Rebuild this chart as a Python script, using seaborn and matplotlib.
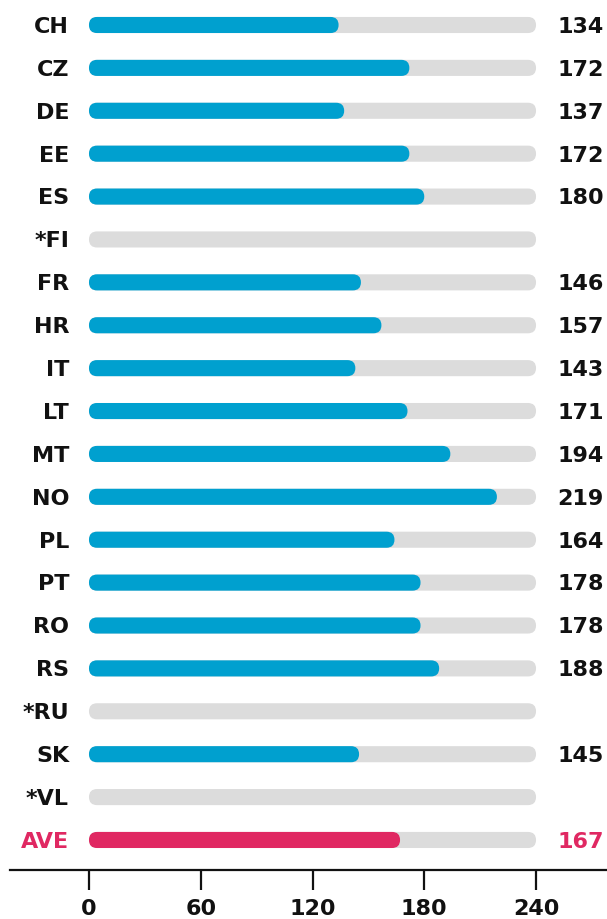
import numpy as np
import pandas as pd
import matplotlib.pyplot as plt
import seaborn as sns
from matplotlib.patches import FancyBboxPatch

# chart data
countries = ["CH", "CZ", "DE", "EE", "ES", "*FI", "FR", "HR", "IT", "LT",
             "MT", "NO", "PL", "PT", "RO", "RS", "*RU", "SK", "*VL", "AVE"]
values = [134, 172, 137, 172, 180, np.nan, 146, 157, 143, 171,
          194, 219, 164, 178, 178, 188, np.nan, 145, np.nan, 167]
track_max = 240
ticks = [0, 60, 120, 180, 240]

BLUE = "#00a0cf"
PINK = "#e02862"
GRAY = "#dcdcdc"

df = pd.DataFrame({"country": countries, "value": values, "track": track_max})
palette = {c: (PINK if c == "AVE" else BLUE) for c in countries}

sns.set_theme(style="white")
plt.rcParams['font.family'] = ['DejaVu Sans']

fig = plt.figure(figsize=(6.07, 9.2), dpi=100)
ax = fig.add_axes([10 / 607, 49 / 920, 597 / 607, 871 / 920])

bar_h = 0.375
sns.barplot(df, x="track", y="country", order=countries, color=GRAY,
            width=bar_h, orient="h", ax=ax, saturation=1)
sns.barplot(df.dropna(), x="value", y="country", order=countries, hue="country",
            palette=palette, width=bar_h, orient="h", ax=ax, saturation=1,
            legend=False)

ax.set_xlim(-42.4, 278.1)
ax.set_ylim(19.7, -0.606)


def round_bars(ax):
    # swap the square bars for pill shapes
    fig.canvas.draw()
    (x0, y0), (x1, y1) = ax.transData.transform([(0, 0), (1, 1)])
    asp = abs(x1 - x0) / abs(y1 - y0)
    for p in list(ax.patches):
        x, y, w, h = p.get_x(), p.get_y(), p.get_width(), p.get_height()
        if not np.isfinite(w) or w <= 0:
            p.remove()
            continue
        r = h / (2 * asp)
        fb = FancyBboxPatch((x, y), w, h,
                            boxstyle=f"round,pad=0,rounding_size={r}",
                            mutation_aspect=asp, facecolor=p.get_facecolor(),
                            edgecolor="none", zorder=p.get_zorder())
        p.remove()
        ax.add_patch(fb)


round_bars(ax)

txt = dict(fontsize=16, fontweight="bold", va="center")
for i, (c, v) in enumerate(zip(countries, values)):
    col = PINK if c == "AVE" else "#111111"
    ax.text(-10.7, i + 0.02, c, ha="right", color=col, **txt)
    if np.isfinite(v):
        ax.text(251.3, i + 0.02, f"{int(v)}", ha="left", color=col, **txt)

ax.set_ylabel("")
ax.set_xlabel("")
ax.set_yticks([])
ax.set_xticks(ticks)
ax.set_xticklabels([str(t) for t in ticks], fontsize=16, fontweight="bold",
                   color="#111111")
ax.tick_params(axis="x", length=14.4, width=1.6, color="#111111", pad=6,
               bottom=True)
sns.despine(ax=ax, left=True, top=True, right=True)
ax.spines["bottom"].set_color("#111111")
ax.spines["bottom"].set_linewidth(1.6)

fig.savefig("out.png", dpi=100)
